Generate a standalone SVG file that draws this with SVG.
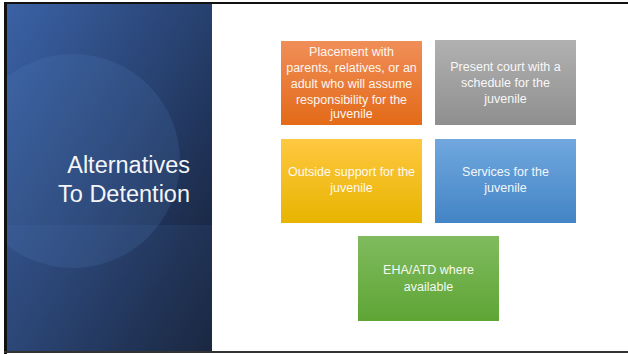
<svg xmlns="http://www.w3.org/2000/svg" width="628" height="354" viewBox="0 0 628 354">
<defs>
<linearGradient id="panel" x1="0" y1="0" x2="1" y2="1">
<stop offset="0" stop-color="#3b62a6"/>
<stop offset="0.5" stop-color="#27406e"/>
<stop offset="1" stop-color="#131c30"/>
</linearGradient>
<linearGradient id="gOrange" x1="0" y1="0" x2="0" y2="1"><stop offset="0" stop-color="#f08e58"/><stop offset="1" stop-color="#e36a18"/></linearGradient>
<linearGradient id="gGray" x1="0" y1="0" x2="0" y2="1"><stop offset="0" stop-color="#b1b1b1"/><stop offset="1" stop-color="#8f8f8f"/></linearGradient>
<linearGradient id="gYellow" x1="0" y1="0" x2="0" y2="1"><stop offset="0" stop-color="#fec841"/><stop offset="1" stop-color="#e8b400"/></linearGradient>
<linearGradient id="gBlue" x1="0" y1="0" x2="0" y2="1"><stop offset="0" stop-color="#70a8de"/><stop offset="1" stop-color="#4384c6"/></linearGradient>
<linearGradient id="gGreen" x1="0" y1="0" x2="0" y2="1"><stop offset="0" stop-color="#80bb5e"/><stop offset="1" stop-color="#5ea535"/></linearGradient>
<clipPath id="pclip"><rect x="7" y="4" width="205" height="347"/></clipPath>
</defs>
<style>
.t{font-family:"Liberation Sans",Arial,sans-serif;font-size:12.5px;fill:#ffffff;text-anchor:middle;opacity:0.93}
.title{font-family:"Liberation Sans",Arial,sans-serif;font-size:23.5px;fill:#ffffff;text-anchor:end;opacity:0.95}
</style>
<rect x="0" y="0" width="628" height="354" fill="#ffffff"/>
<rect x="4" y="2" width="624" height="2" fill="#111111"/>
<rect x="4" y="2" width="3" height="352" fill="#111111"/>
<rect x="4" y="351" width="624" height="2" fill="#333333"/>
<g id="panel">
<rect x="7" y="4" width="205" height="347" fill="url(#panel)"/>
<g clip-path="url(#pclip)">
<circle cx="73" cy="161" r="107" fill="#5a86c8" opacity="0.17"/>
<rect x="7" y="225" width="205" height="126" fill="#4f78bb" opacity="0.12"/>
</g>
<text class="title" x="190" y="173">Alternatives</text>
<text class="title" x="190" y="202">To Detention</text>
</g>
<g id="connectors"></g>
<g id="n1">
<rect x="281" y="41" width="141" height="84" fill="url(#gOrange)"/>
<text class="t" x="351.5" y="55.5">Placement with</text>
<text class="t" x="351.5" y="71.5">parents, relatives, or an</text>
<text class="t" x="351.5" y="87.5">adult who will assume</text>
<text class="t" x="351.5" y="103.5">responsibility for the</text>
<text class="t" x="351.5" y="117.5">juvenile</text>
</g>
<g id="n2">
<rect x="435" y="40" width="141" height="85" fill="url(#gGray)"/>
<text class="t" x="505.5" y="70.5">Present court with a</text>
<text class="t" x="505.5" y="86.5">schedule for the</text>
<text class="t" x="505.5" y="102.5">juvenile</text>
</g>
<g id="n3">
<rect x="281" y="139" width="141" height="84" fill="url(#gYellow)"/>
<text class="t" x="351.5" y="175.5">Outside support for the</text>
<text class="t" x="351.5" y="191.5">juvenile</text>
</g>
<g id="n4">
<rect x="435" y="139" width="141" height="84" fill="url(#gBlue)"/>
<text class="t" x="505.5" y="175.5">Services for the</text>
<text class="t" x="505.5" y="191.5">juvenile</text>
</g>
<g id="n5">
<rect x="358" y="236" width="141" height="85" fill="url(#gGreen)"/>
<text class="t" x="428.5" y="273.5">EHA/ATD where</text>
<text class="t" x="428.5" y="290.5">available</text>
</g>
</svg>
